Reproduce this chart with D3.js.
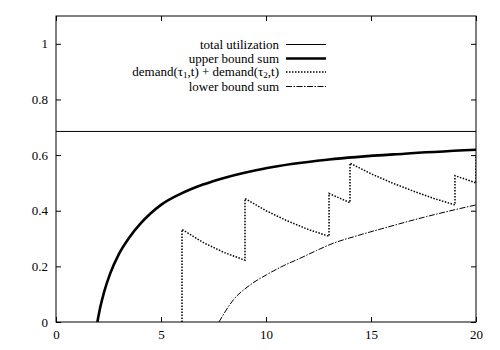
<!DOCTYPE html>
<html>
<head>
<meta charset="utf-8">
<script src="https://cdn.jsdelivr.net/npm/d3@7"></script>
<style>
  html, body { margin: 0; padding: 0; background: #fff; }
  svg text { font-family: "Liberation Serif", "Times New Roman", Tinos, "DejaVu Serif", serif; font-size: 13px; fill: #000; }
</style>
</head>
<body>
<svg id="chart" width="500" height="350"></svg>
<script>
// ---- data ----
const xTicks = [0, 5, 10, 15, 20];
const yTicks = [0, 0.2, 0.4, 0.6, 0.8, 1];

const totalT = [0, 20];
const totalV = [0.685, 0.685];

const upperT = [1.97, 2.1, 2.3, 2.57, 3, 3.5, 4, 4.5, 5, 6, 7, 8, 10, 13, 16.6, 20];
const upperV = [0, 0.05, 0.11, 0.172, 0.245, 0.305, 0.352, 0.39, 0.421, 0.463, 0.494, 0.518, 0.553, 0.584, 0.605, 0.619];

const demandT = [6, 6, 7, 8, 9, 9, 10, 11, 12, 13, 13, 14, 14, 15, 16, 17, 18, 19, 19, 20, 20];
const demandV = [0, 0.333, 0.286, 0.25, 0.222, 0.444, 0.4, 0.364, 0.333, 0.308, 0.462, 0.429, 0.571, 0.533, 0.5, 0.471, 0.444, 0.421, 0.526, 0.5, 0.6];

const lowerT = [7.76, 8.44, 9.24, 10.03, 10.83, 11.62, 12.41, 13.2, 14.2, 15.5, 17.65, 20];
const lowerV = [0, 0.079, 0.133, 0.170, 0.202, 0.229, 0.257, 0.283, 0.307, 0.335, 0.379, 0.421];

const legendLabels = ["total utilization", "upper bound sum", "demand", "lower bound sum"];

// ---- layout ----
const svg = d3.select("#chart");
const L = 56, R = 476, T = 16, B = 322;
const x = d3.scaleLinear().domain([0, 20]).range([L, R]);
const y = d3.scaleLinear().domain([0, 1.1]).range([B, T]);

svg.append("defs").append("clipPath").attr("id", "clip")
  .append("rect").attr("x", L).attr("y", T).attr("width", R - L).attr("height", B - T);

const styles = [
  { w: 1, dash: null },
  { w: 2.6, dash: null },
  { w: 1.5, dash: "1.5,1.5" },
  { w: 1, dash: "6,1.5,1.5,1.5" }
];

function zip(ts, vs) { return ts.map((t, i) => [t, vs[i]]); }

const series = [
  { data: zip(totalT, totalV), curve: d3.curveLinear, s: styles[0] },
  { data: zip(upperT, upperV), curve: d3.curveMonotoneX, s: styles[1] },
  { data: zip(demandT, demandV), curve: d3.curveLinear, s: styles[2] },
  { data: zip(lowerT, lowerV), curve: d3.curveMonotoneX, s: styles[3] }
];

const g = svg.append("g").attr("clip-path", "url(#clip)");
series.forEach(se => {
  const line = d3.line().x(d => x(d[0])).y(d => y(d[1])).curve(se.curve);
  g.append("path").attr("d", line(se.data))
    .attr("fill", "none").attr("stroke", "#000")
    .attr("stroke-width", se.s.w)
    .attr("stroke-dasharray", se.s.dash);
});

// ---- axes ----
const fmt = d3.format("~g");
const axL = svg.append("g").attr("transform", `translate(${L},0)`)
  .call(d3.axisLeft(y).tickValues(yTicks).tickSize(-5).tickPadding(8).tickFormat(fmt));
const axR = svg.append("g").attr("transform", `translate(${R},0)`)
  .call(d3.axisRight(y).tickValues(yTicks).tickSize(-5).tickFormat(""));
const axB = svg.append("g").attr("transform", `translate(0,${B})`)
  .call(d3.axisBottom(x).tickValues(xTicks).tickSize(-5).tickPadding(8).tickFormat(fmt));
const axT = svg.append("g").attr("transform", `translate(0,${T})`)
  .call(d3.axisTop(x).tickValues(xTicks).tickSize(-5).tickFormat(""));
[axL, axR, axB, axT].forEach(a => {
  a.attr("font-family", null).attr("font-size", null);
  a.select(".domain").remove();
  a.selectAll("line").attr("stroke", "#000");
});

svg.append("rect").attr("x", L).attr("y", T).attr("width", R - L).attr("height", B - T)
  .attr("fill", "none").attr("stroke", "#000").attr("stroke-width", 1);

// ---- legend ----
const legY = [44.5, 58.5, 72, 86.5];
const lg = svg.append("g");
legendLabels.forEach((lab, i) => {
  const t = lg.append("text").attr("x", 279).attr("y", legY[i] + 4).attr("text-anchor", "end");
  if (lab === "demand") {
    t.append("tspan").text("demand(τ");
    t.append("tspan").attr("dy", 2).style("font-size", "9px").text("1");
    t.append("tspan").attr("dy", -2).text(",t) + demand(τ");
    t.append("tspan").attr("dy", 2).style("font-size", "9px").text("2");
    t.append("tspan").attr("dy", -2).text(",t)");
  } else {
    t.text(lab);
  }
  lg.append("line").attr("x1", 286).attr("x2", 326).attr("y1", legY[i]).attr("y2", legY[i])
    .attr("stroke", "#000").attr("stroke-width", styles[i].w)
    .attr("stroke-dasharray", styles[i].dash);
});
</script>
</body>
</html>
